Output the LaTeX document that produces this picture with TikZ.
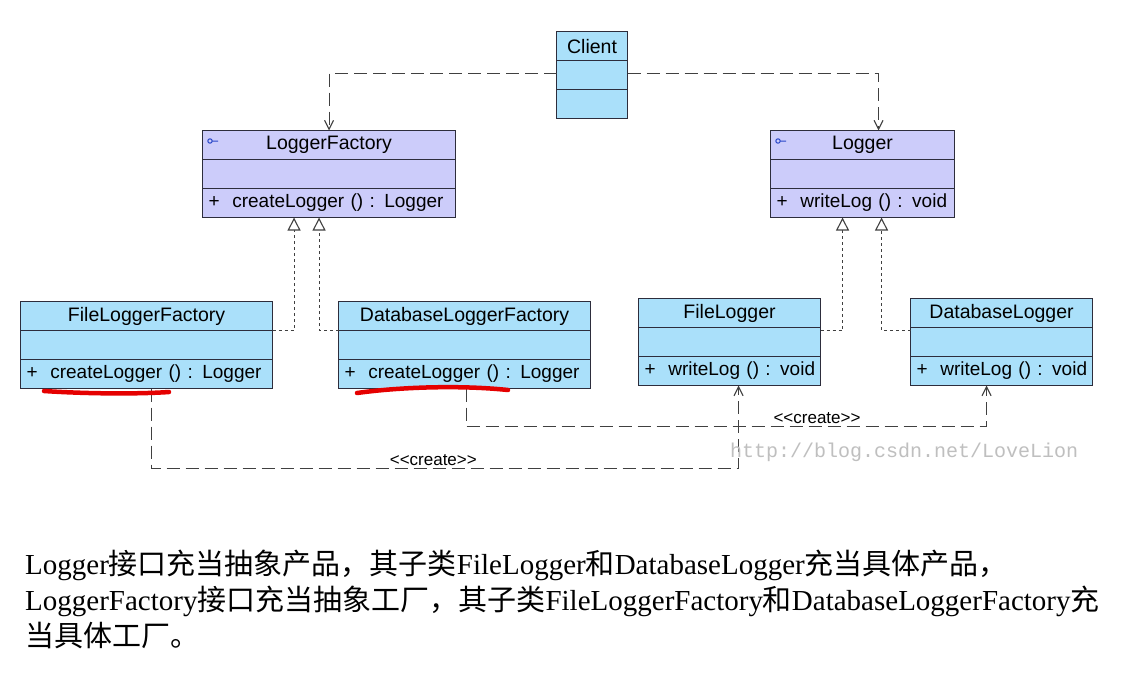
\documentclass[tikz,border=0pt]{standalone}
\usepackage{fontspec}
\setmainfont{Liberation Serif}
\setsansfont{Liberation Sans}
\newfontfamily\cjk{Noto Sans CJK SC}
\newfontfamily\wmfont{Liberation Mono}
\usetikzlibrary{arrows.meta, matrix}

\definecolor{clsblue}{RGB}{170,224,250}
\definecolor{ifcpurple}{RGB}{204,204,250}
\definecolor{umlline}{RGB}{45,45,60}
\definecolor{iconblue}{RGB}{40,70,200}

\begin{document}
\begin{tikzpicture}[x=1pt, y=-1pt, nodes in empty cells,
umlclass/.style={matrix of nodes, anchor=north west, inner sep=0pt, outer sep=0pt,
  row sep=-1.1pt,
  nodes={draw=umlline, line width=1.1pt, minimum height=29pt, inner sep=0pt, outer sep=0pt,
    font=\sffamily\fontsize{19.5}{22}\selectfont}},
oprow/.style={row 3/.style={nodes={text width=#1, align=left, inner xsep=6pt,
    font=\sffamily\fontsize{19}{22}\selectfont}}},
depline/.style={draw=black!75, line width=1.1pt, dash pattern=on 13pt off 6pt,
  -{Straight Barb[length=9pt, width=9pt]}},
realline/.style={draw=black!75, line width=1.1pt, dash pattern=on 3pt off 3pt,
  -{Triangle[open, length=13pt, width=13pt, fill=white]}},
stereo/.style={font=\sffamily\fontsize{17}{19}\selectfont, above, inner sep=2pt},
redmark/.style={draw=red!90!black, line width=4.5pt, line cap=round},
note/.style={anchor=base west, inner sep=0pt, font=\fontsize{29}{36}\selectfont}]

\useasboundingbox[fill=white] (0,0) rectangle (1139,672);

% classes
\matrix (client) [umlclass, nodes={fill=clsblue, minimum width=71pt}] at (556,31)
{ Client \\ \\ \\ };

\matrix (lf) [umlclass, oprow=241pt, nodes={fill=ifcpurple, minimum width=253pt}] at (202,130)
{ LoggerFactory \\ \\ \mbox{+\ \ createLogger () : Logger} \\ };

\matrix (lg) [umlclass, oprow=172pt, nodes={fill=ifcpurple, minimum width=184pt}] at (770,130)
{ Logger \\ \\ \mbox{+\ \ writeLog () : void} \\ };

\matrix (flf) [umlclass, oprow=240pt, nodes={fill=clsblue, minimum width=252pt}] at (20,301)
{ FileLoggerFactory \\ \\ \mbox{+\ \ createLogger () : Logger} \\ };

\matrix (dlf) [umlclass, oprow=240pt, nodes={fill=clsblue, minimum width=252pt}] at (338,301)
{ DatabaseLoggerFactory \\ \\ \mbox{+\ \ createLogger () : Logger} \\ };

\matrix (fl) [umlclass, oprow=170pt, nodes={fill=clsblue, minimum width=182pt}] at (638,298)
{ FileLogger \\ \\ \mbox{+\ \ writeLog () : void} \\ };

\matrix (dl) [umlclass, oprow=170pt, nodes={fill=clsblue, minimum width=182pt}] at (910,298)
{ DatabaseLogger \\ \\ \mbox{+\ \ writeLog () : void} \\ };

% interface marks
\draw[iconblue, line width=1pt] ([shift={(8,11)}]lf.north west) circle (2.2) ++(2.2,0) -- ++(6,0);
\draw[iconblue, line width=1pt] ([shift={(8,11)}]lg.north west) circle (2.2) ++(2.2,0) -- ++(6,0);

% client uses
\draw[depline] ([yshift=2pt]client-2-1.west) -| (lf-1-1.north);
\draw[depline] ([yshift=2pt]client-2-1.east) -| ([xshift=16pt]lg-1-1.north);

% realizations
\draw[realline] (flf-1-1.south east) -| ([xshift=-35pt]lf-3-1.south);
\draw[realline] (dlf-1-1.south west) -| ([xshift=-10pt]lf-3-1.south);
\draw[realline] ([yshift=-3pt]fl-1-1.south east) -| ([xshift=-20pt]lg-3-1.south);
\draw[realline] ([yshift=-3pt]dl-1-1.south west) -| ([xshift=19pt]lg-3-1.south);

% create dependencies
\draw[depline] ([xshift=5pt]flf-3-1.south) -- ++(0,80)
  -| node[stereo, pos=0.24] {{<}{<}create{>}{>}} ([xshift=9pt]fl-3-1.south);
\draw[depline] ([xshift=2pt]dlf-3-1.south) -- ++(0,38)
  -| node[stereo, pos=0.337] {{<}{<}create{>}{>}} ([xshift=-15pt]dl-3-1.south);

% red underlines
\draw[redmark] (44,391) .. controls (90,394) and (140,394) .. (169,392);
\draw[redmark] (357,393) .. controls (400,387) and (460,385) .. (508,390);

% watermark
\node[font=\wmfont\fontsize{20}{22}\selectfont, text=black!25, anchor=base west, inner sep=0pt]
  (wmark) at (730,457) {http://blog.csdn.net/LoveLion};

% note below
\node[note] (line1) at (25,574) {Logger{\cjk 接口充当抽象产品，其子类}FileLogger{\cjk 和}DatabaseLogger{\cjk 充当具体产品，}};
\node[note] (line2) at (25,610) {LoggerFactory{\cjk 接口充当抽象工厂，其子类}FileLoggerFactory{\cjk 和}DatabaseLoggerFactory{\cjk 充}};
\node[note] (line3) at (25,646) {{\cjk 当具体工厂。}};

\end{tikzpicture}
\end{document}
